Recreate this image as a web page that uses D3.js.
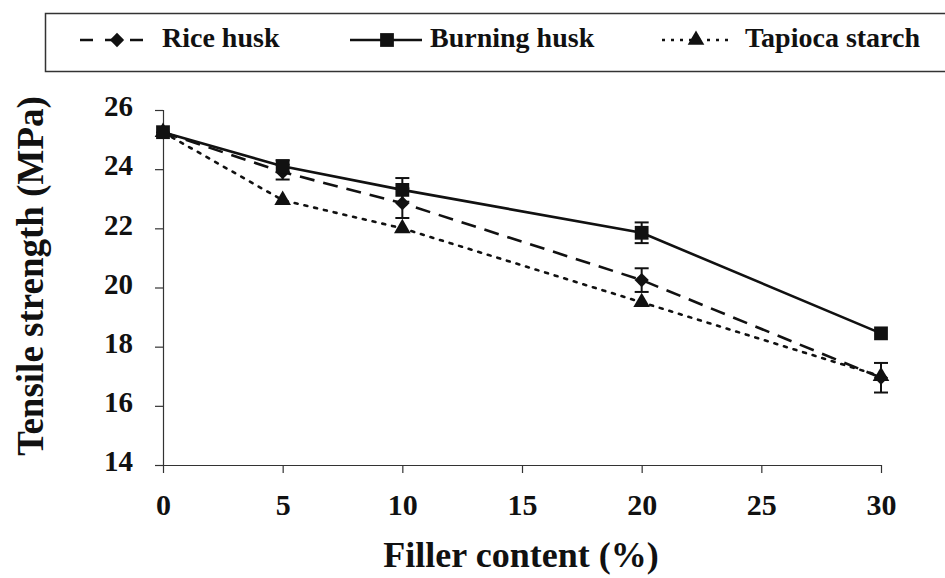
<!DOCTYPE html>
<html>
<head>
<meta charset="utf-8">
<script src="https://cdn.jsdelivr.net/npm/d3@7"></script>
<style>
  body { margin: 0; background: #fff; }
  text { font-family: "Liberation Serif", "Times New Roman", serif; font-weight: bold; fill: #111; }
</style>
</head>
<body>
<script>
// filler content (%)
var filler = [0, 5, 10, 20, 30];
// tensile strength values (MPa)
var riceHusk = [25.25, 23.9, 22.85, 20.25, 16.95];
var riceErr = [0, 0.25, 0.5, 0.4, 0.5];
var burningHusk = [25.25, 24.1, 23.3, 21.85, 18.45];
var burningErr = [0, 0.2, 0.4, 0.35, 0];
var tapioca = [25.25, 22.95, 22.0, 19.5, 17.0];
var tapiocaErr = [0, 0, 0, 0, 0];
var xTicks = [0, 5, 10, 15, 20, 25, 30];
var yTicks = [14, 16, 18, 20, 22, 24, 26];

var W = 945, H = 578;
var svg = d3.select("body").append("svg").attr("width", W).attr("height", H);

var x = d3.scaleLinear().domain([0, 30]).range([163, 881]);
var y = d3.scaleLinear().domain([14, 26]).range([465, 110]);

// axes
var xAxis = d3.axisBottom(x).tickValues(xTicks).tickSize(8).tickPadding(21);
var gx = svg.append("g").attr("transform", "translate(0,465)").call(xAxis);
gx.select(".domain").attr("d", "M155,0.5H881");
gx.selectAll("text").style("font-size", "30px");

var yAxis = d3.axisLeft(y).tickValues(yTicks).tickSize(8).tickPadding(22);
var gy = svg.append("g").attr("transform", "translate(163,0)").call(yAxis);
gy.select(".domain").attr("d", "M0.5,110V465");
gy.selectAll("text").style("font-size", "29px").attr("dy", "0.2em");
svg.selectAll(".domain, .tick line").attr("stroke", "#333").attr("stroke-width", 1.2);

// axis titles
svg.append("text").attr("x", 521).attr("y", 567).attr("text-anchor", "middle")
  .style("font-size", "36px").text("Filler content (%)");
svg.append("text").attr("transform", "translate(43,276) rotate(-90)").attr("text-anchor", "middle")
  .style("font-size", "37px").text("Tensile strength (MPa)");

var series = [
  {name: "Rice husk", vals: riceHusk, err: riceErr, dash: "15,9", sym: d3.symbolDiamond2, size: 130},
  {name: "Burning husk", vals: burningHusk, err: burningErr, dash: null, sym: d3.symbolSquare, size: 190},
  {name: "Tapioca starch", vals: tapioca, err: tapiocaErr, dash: "3,7", sym: d3.symbolTriangle, size: 120}
];

var line = d3.line().x(function(d) { return x(d[0]); }).y(function(d) { return y(d[1]); });

// draw order: tapioca, rice, burning
[2, 0, 1].forEach(function(k) {
  var s = series[k];
  var pts = filler.map(function(f, i) { return [f, s.vals[i], s.err[i]]; });
  svg.append("path").datum(pts).attr("d", line).attr("fill", "none")
    .attr("stroke", "#111").attr("stroke-width", 2.6)
    .attr("stroke-dasharray", s.dash).attr("stroke-linecap", s.dash == "3,7" ? "round" : "butt");
  // error bars
  pts.filter(function(p) { return p[2] > 0; }).forEach(function(p) {
    var g = svg.append("g").attr("stroke", "#111").attr("stroke-width", 2);
    g.append("line").attr("x1", x(p[0])).attr("x2", x(p[0])).attr("y1", y(p[1] + p[2])).attr("y2", y(p[1] - p[2]));
    g.append("line").attr("x1", x(p[0]) - 7).attr("x2", x(p[0]) + 7).attr("y1", y(p[1] + p[2])).attr("y2", y(p[1] + p[2]));
    g.append("line").attr("x1", x(p[0]) - 7).attr("x2", x(p[0]) + 7).attr("y1", y(p[1] - p[2])).attr("y2", y(p[1] - p[2]));
  });
  svg.selectAll(null).data(pts).enter().append("path")
    .attr("d", d3.symbol().type(s.sym).size(s.size))
    .attr("transform", function(d) { return "translate(" + x(d[0]) + "," + y(d[1]) + ")"; })
    .attr("fill", "#111");
});

// legend
svg.append("rect").attr("x", 45.5).attr("y", 13.5).attr("width", 920).attr("height", 58)
  .attr("fill", "#fff").attr("stroke", "#333").attr("stroke-width", 1.5);
var legX = [80, 350, 662];
series.forEach(function(s, i) {
  var g = svg.append("g").attr("transform", "translate(" + legX[i] + ",40)");
  g.append("line").attr("x1", 0).attr("x2", 72).attr("y1", 0).attr("y2", 0)
    .attr("stroke", "#111").attr("stroke-width", 2.6)
    .attr("stroke-dasharray", i == 0 ? "13,12" : (i == 2 ? "3,6" : null));
  g.append("path").attr("d", d3.symbol().type(s.sym).size(s.size))
    .attr("transform", "translate(" + (i == 2 ? 34 : 37) + ",0)").attr("fill", "#111");
  g.append("text").attr("x", i == 0 ? 82 : (i == 1 ? 80 : 83)).attr("y", 7).style("font-size", "28px").text(s.name);
});
</script>
</body>
</html>
